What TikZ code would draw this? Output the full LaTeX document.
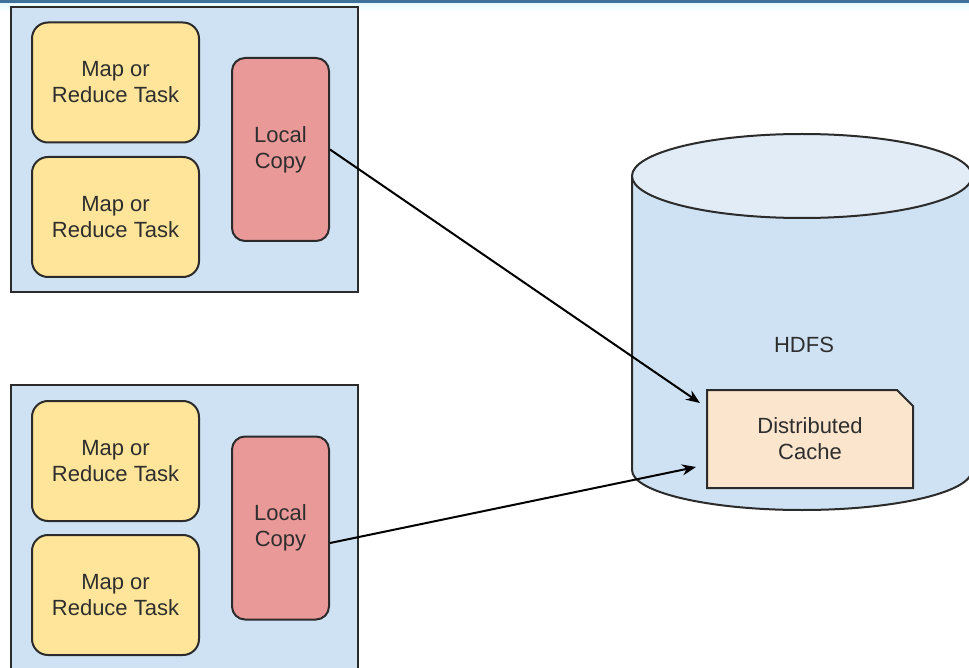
\documentclass[tikz,border=0pt]{standalone}
\usepackage{fontspec}
\setmainfont{Liberation Sans}
\usetikzlibrary{arrows.meta,calc}
\definecolor{hostblue}{HTML}{CFE2F3}
\definecolor{toplight}{HTML}{E2ECF7}
\definecolor{taskyel}{HTML}{FFE599}
\definecolor{copyred}{HTML}{EA9999}
\definecolor{cachefill}{HTML}{FCE5CD}
\definecolor{edge}{HTML}{2B2B2B}
\definecolor{txt}{HTML}{2E2E2E}
\definecolor{bandblue}{HTML}{3F7199}
\definecolor{bandlight}{HTML}{E6FAFD}
\tikzset{
  lbl/.style={font=\fontsize{22}{26}\selectfont, text=txt, align=center},
  hostbox/.style={draw=edge, line width=2pt, fill=hostblue},
  taskbox/.style={lbl, draw=edge, line width=2pt, fill=taskyel, rounded corners=16pt,
     minimum width=167pt, minimum height=120pt, inner sep=0pt},
  copybox/.style={lbl, draw=edge, line width=2pt, fill=copyred, rounded corners=13pt,
     minimum width=97pt, minimum height=183pt, inner sep=0pt},
  conn/.style={line width=2pt, black, -{Stealth[length=14pt,width=11pt]}}
}
\begin{document}
\begin{tikzpicture}[x=1pt,y=-1pt]
\useasboundingbox (0,0) rectangle (969,668);
\clip (0,0) rectangle (969,668);
\fill[white] (0,0) rectangle (969,668);
% top band
\shade[top color=bandlight, bottom color=white] (0,3) rectangle (969,12);
\fill[bandblue] (0,0) rectangle (969,3);

% hosts
\draw[hostbox] (11,7) rectangle (358,292);
\draw[hostbox] (11,385) rectangle (358,672);

\node[taskbox] (t1) at (115.5,82.5) {Map or\\Reduce Task};
\node[taskbox] (t2) at (115.5,217) {Map or\\Reduce Task};
\node[copybox] (c1) at (280.5,149.5) {Local\\Copy};

\node[taskbox] (t3) at (115.5,461) {Map or\\Reduce Task};
\node[taskbox] (t4) at (115.5,595) {Map or\\Reduce Task};
\node[copybox] (c2) at (280.5,528) {Local\\Copy};

% cylinder
\draw[line width=2pt, draw=edge, fill=hostblue]
  (632,176) -- (632,470) arc[start angle=180, end angle=0, x radius=170, y radius=40]
  -- (972,176);
\draw[line width=2pt, draw=edge, fill=toplight] (802,176) ellipse[x radius=170, y radius=42];
\node[lbl] (hdfs) at (804,345) {HDFS};

% distributed cache
\coordinate (cnw) at (707,390);
\coordinate (cse) at (913,488);
\draw[line width=2pt, draw=edge, fill=cachefill]
  (cnw) -- (897,390) -- (913,406) -- (cse) -- (707,488) -- cycle;
\node[lbl] (cache) at (810,439) {Distributed\\Cache};

% connectors
\coordinate (e1) at (700,403);
\coordinate (e2) at (696,467);
\draw[conn] (c1.east) -- (e1);
\draw[conn] ($(c2.east)+(0,15)$) -- (e2);
\end{tikzpicture}
\end{document}
